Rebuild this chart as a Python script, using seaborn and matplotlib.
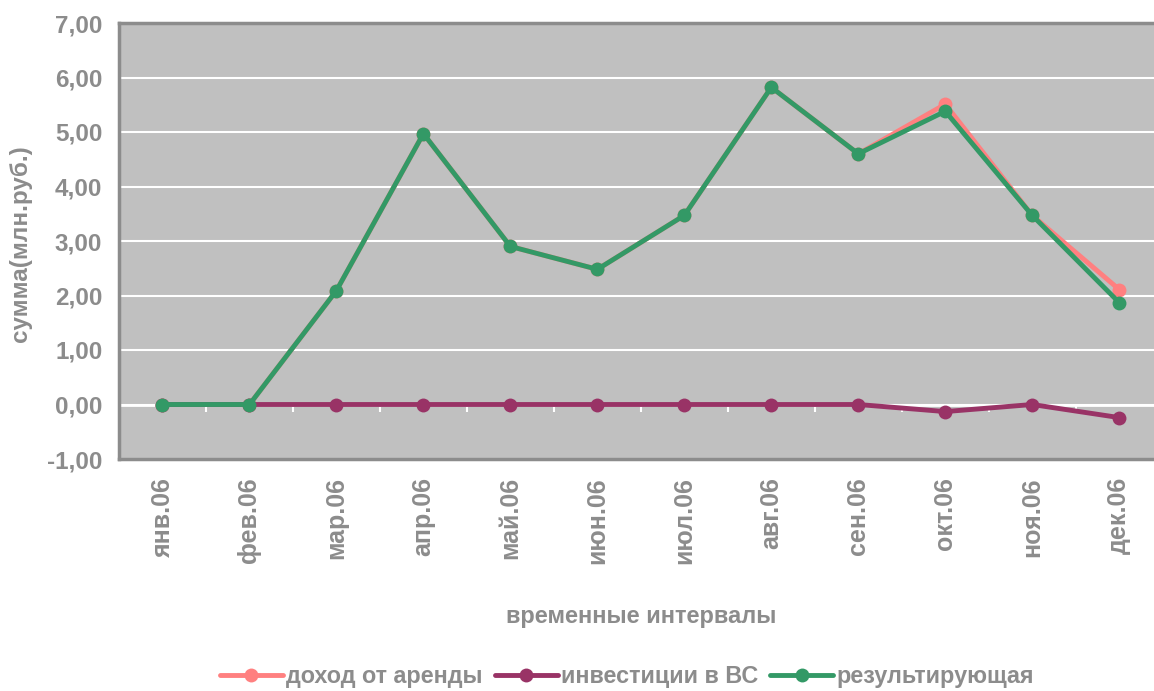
import matplotlib
matplotlib.use("Agg")
import matplotlib.pyplot as plt
from matplotlib.ticker import FixedLocator, FuncFormatter
import seaborn as sns
import pandas as pd

# Monthly figures, million roubles
months = ["янв.06", "фев.06", "мар.06", "апр.06", "май.06", "июн.06",
          "июл.06", "авг.06", "сен.06", "окт.06", "ноя.06", "дек.06"]
rent_income = [0.00, 0.00, 2.09, 4.97, 2.90, 2.48, 3.47, 5.82, 4.60, 5.51, 3.47, 2.11]
investments = [0.00, 0.00, 0.00, 0.00, 0.00, 0.00, 0.00, 0.00, 0.00, -0.13, 0.00, -0.24]
resulting = [0.00, 0.00, 2.09, 4.97, 2.90, 2.48, 3.47, 5.82, 4.60, 5.38, 3.47, 1.87]

series_names = ["доход от аренды", "инвестиции в ВС", "результирующая"]
series_colors = ["#ff8080", "#993366", "#339966"]

rows = []
for name, vals in zip(series_names, [rent_income, investments, resulting]):
    for i, v in enumerate(vals):
        rows.append({"month": i, "value": v, "series": name})
df = pd.DataFrame(rows)

sns.set_theme(style="white")
plt.rcParams["font.family"] = ["Liberation Sans", "DejaVu Sans"]
plt.rcParams["font.weight"] = "bold"

text_gray = "#8c8c8c"
border_gray = "#8c8c8c"

fig = plt.figure(figsize=(11.54, 6.91), dpi=100)
ax = fig.add_axes([119 / 1154, 1 - 459 / 691, 1 - 119 / 1154, (459 - 23) / 691])
ax.set_facecolor("#c0c0c0")

sns.lineplot(data=df, x="month", y="value", hue="series", hue_order=series_names,
             palette=series_colors, marker="o", markersize=10, markeredgewidth=0,
             linewidth=3.5, ax=ax, legend=True)

ax.set_xlim(-0.5, 11.4)
ax.set_ylim(-1, 7)
ax.yaxis.set_major_locator(FixedLocator(range(-1, 8)))
ax.yaxis.set_major_formatter(FuncFormatter(lambda v, p: f"{v:.2f}".replace(".", ",")))
ax.grid(axis="y", color="white", linewidth=1.5)
ax.grid(axis="x", visible=False)
ax.set_axisbelow(True)

ax.set_xticks(range(len(months)))
ax.set_xticklabels(months, rotation=90, fontsize=18, color=text_gray, fontweight="bold")
ax.tick_params(axis="x", length=0, pad=13)
ax.tick_params(axis="y", length=0, pad=12, labelsize=17.5, labelcolor=text_gray)
for lbl in ax.get_yticklabels():
    lbl.set_fontweight("bold")

for side in ["left", "bottom", "top"]:
    ax.spines[side].set_color(border_gray)
    ax.spines[side].set_linewidth(2.5)
ax.spines["right"].set_visible(False)

# Category axis crossing at zero with white boundary ticks
zero_axis = ax.secondary_xaxis(1 / 8)
zero_axis.spines["bottom"].set_color("white")
zero_axis.spines["bottom"].set_linewidth(2)
zero_axis.set_xticks([i + 0.5 for i in range(-1, len(months))])
zero_axis.tick_params(axis="x", direction="out", length=5, width=1.5, color="white",
                      labelbottom=False)
zero_axis.set_zorder(1)

ax.set_ylabel("сумма(млн.руб.)", fontsize=17.5, color=text_gray, fontweight="bold")
ax.yaxis.set_label_coords(-0.084, 0.495)
ax.set_xlabel("временные интервалы", fontsize=17, color=text_gray, fontweight="bold",
              va="center")
ax.xaxis.set_label_coords((641 - 119) / 1035, (459 - 617) / 436)

leg = ax.legend(loc="center", bbox_to_anchor=((627 - 119) / 1035, (459 - 677) / 436), ncol=3,
                frameon=False, handlelength=2.7, handletextpad=0.15, columnspacing=0.5,
                prop={"family": ["Liberation Sans"], "weight": "bold", "size": 16.8})
for t in leg.get_texts():
    t.set_color(text_gray)

fig.savefig("out.png", dpi=100)
